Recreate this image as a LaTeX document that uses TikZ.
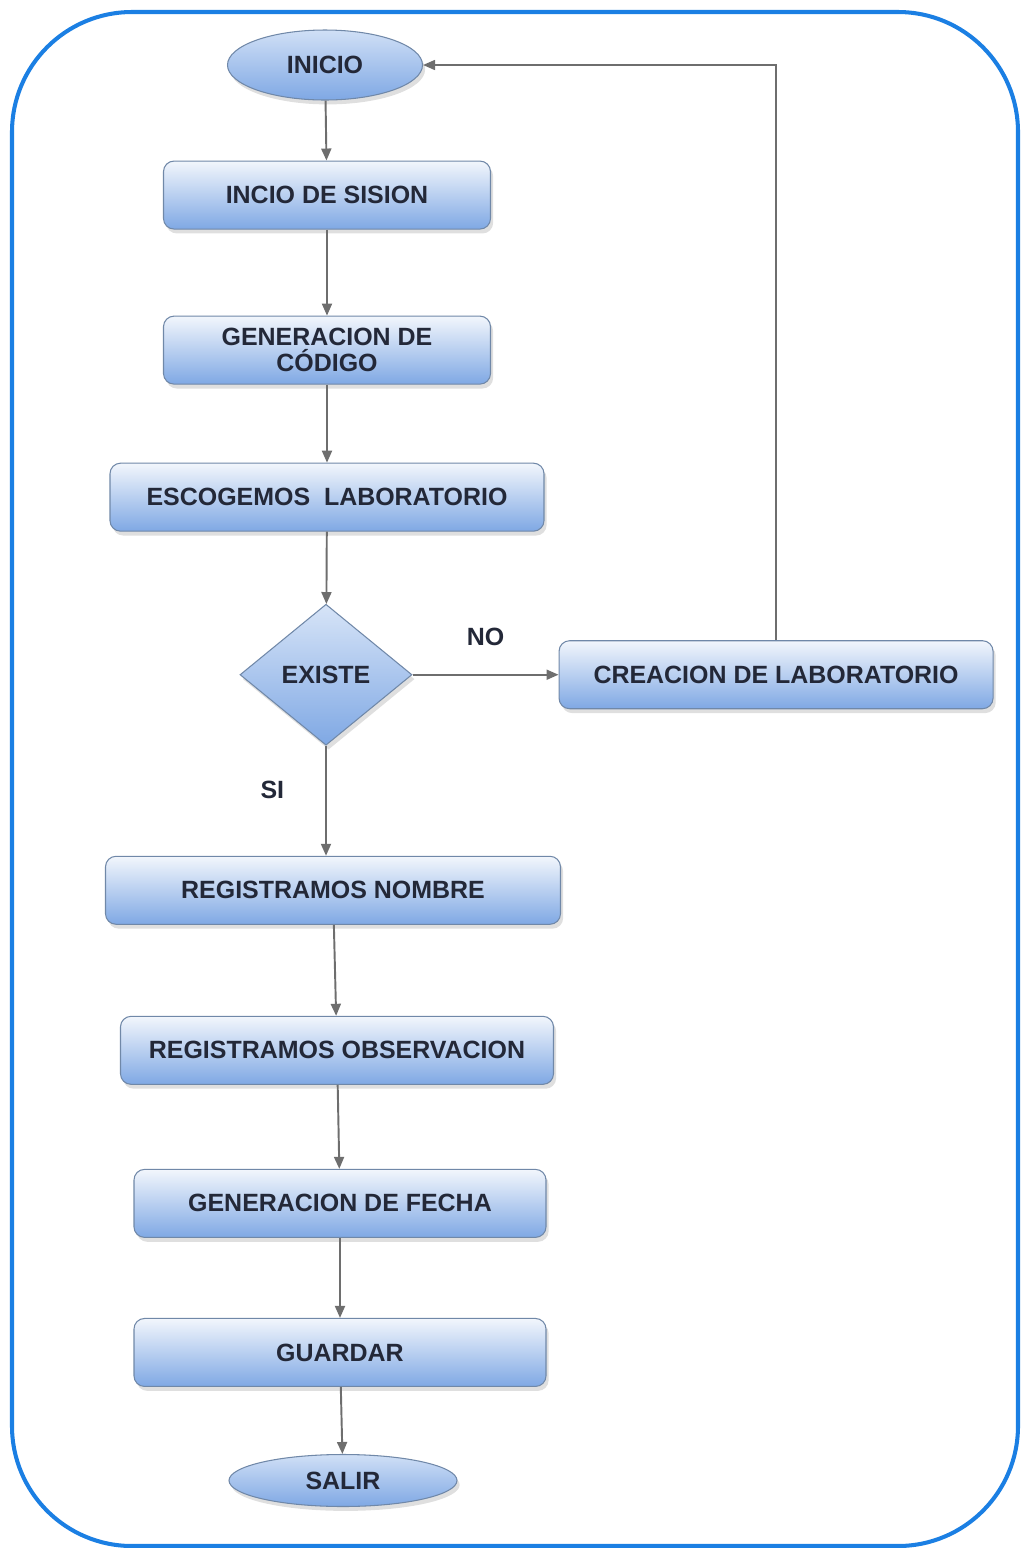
\documentclass[tikz,border=0pt]{standalone}
\usepackage{fontspec}
\setmainfont{Liberation Sans}
\usepackage{xcolor}
\usetikzlibrary{arrows.meta,positioning,shapes.geometric,shadows}
\definecolor{marco}{HTML}{1B7FE3}
\definecolor{cajatop}{HTML}{F2F6FC}
\definecolor{cajamid}{HTML}{BCD2F2}
\definecolor{cajabot}{HTML}{7FA8E4}
\definecolor{borde}{HTML}{7088A8}
\definecolor{flecha}{HTML}{6E6E6E}
\definecolor{texto}{HTML}{232838}

\tikzset{
  paso/.style={draw=borde, line width=0.6pt, rounded corners=6pt,
    top color=cajatop, middle color=cajamid, bottom color=cajabot,
    minimum height=1.36cm, align=center, text=texto,
    drop shadow={shadow xshift=1.5pt, shadow yshift=-2.5pt, opacity=0.25}},
  terminal/.style={ellipse, draw=borde, line width=0.6pt, inner sep=1pt,
    top color=cajamid!70!white, bottom color=cajabot, text=texto,
    drop shadow={shadow xshift=1.5pt, shadow yshift=-2.5pt, opacity=0.25}},
  decision/.style={diamond, draw=borde, line width=0.6pt, inner sep=0pt,
    top color=cajamid!60!white, bottom color=cajabot, text=texto,
    minimum width=3.44cm, minimum height=2.82cm,
    drop shadow={shadow xshift=1.5pt, shadow yshift=-2.5pt, opacity=0.25}},
  flujo/.style={-{Triangle[length=0.24cm, width=0.2cm]}, line width=1.1pt, flecha},
}

\begin{document}
\begin{tikzpicture}[every node/.style={font=\bfseries\fontsize{14.2}{15}\selectfont}]
  \useasboundingbox (0,0) rectangle (20.42,-30.96);
  \draw[marco, line width=2.3pt, rounded corners=2.4cm] (0.24,-0.24) rectangle (20.36,-30.92);

  \node[terminal, minimum width=3.9cm, minimum height=1.4cm] (inicio) at (6.5,-1.3) {INICIO};
  \node[paso, minimum width=6.54cm, below=1.2cm of inicio, xshift=0.04cm] (sesion) {INCIO DE SISION};
  \node[paso, minimum width=6.54cm, below=1.72cm of sesion] (codigo) {GENERACION DE\\CÓDIGO};
  \node[paso, minimum width=8.68cm, below=1.56cm of codigo] (escoger) {ESCOGEMOS \ LABORATORIO};
  \node[decision, below=1.44cm of escoger, xshift=-0.02cm] (existe) {EXISTE};
  \node[paso, minimum width=8.68cm, right=2.92cm of existe] (crear) {CREACION DE LABORATORIO};
  \node[paso, minimum width=9.1cm, below=2.2cm of existe, xshift=0.14cm] (nombre) {REGISTRAMOS NOMBRE};
  \node[paso, minimum width=8.66cm, below=1.82cm of nombre, xshift=0.08cm] (observ) {REGISTRAMOS OBSERVACION};
  \node[paso, minimum width=8.24cm, below=1.68cm of observ, xshift=0.06cm] (fecha) {GENERACION DE FECHA};
  \node[paso, minimum width=8.24cm, below=1.6cm of fecha] (guardar) {GUARDAR};
  \node[terminal, minimum width=4.56cm, minimum height=1.04cm, below=1.34cm of guardar, xshift=0.06cm] (salir) {SALIR};

  \draw[flujo] (inicio) -- (sesion);
  \draw[flujo] (sesion) -- (codigo);
  \draw[flujo] (codigo) -- (escoger);
  \draw[flujo] (escoger) -- (existe);
  \draw[flujo] (existe) -- node[above=0.45cm, text=texto]{NO} (crear);
  \draw[flujo] (existe.south) -- node[pos=0.4, left=0.7cm, text=texto]{SI} (nombre.north -| existe.south);
  \draw[flujo] (nombre) -- (observ);
  \draw[flujo] (observ) -- (fecha);
  \draw[flujo] (fecha) -- (guardar);
  \draw[flujo] (guardar) -- (salir);
  \draw[flujo, line width=0.9pt] (crear.north) |- (inicio.east);
\end{tikzpicture}
\end{document}
